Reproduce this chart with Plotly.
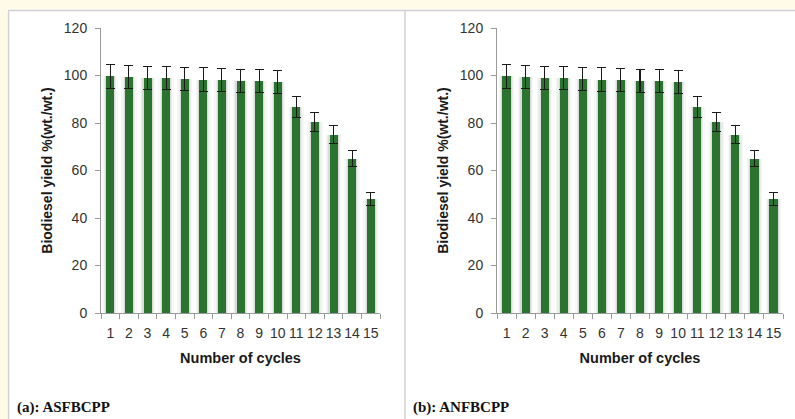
import plotly.graph_objects as go

cycles = [str(i) for i in range(1, 16)]
yield_a = [99.6, 99.3, 99.0, 98.9, 98.6, 98.3, 98.2, 97.8, 97.7, 97.4, 86.6, 80.5, 75.0, 65.0, 48.0]
err_a = [5.0, 4.9, 4.9, 4.9, 4.9, 4.9, 4.9, 4.9, 4.9, 4.8, 4.4, 4.0, 3.8, 3.3, 2.6]
yield_b = [99.6, 99.3, 99.0, 98.9, 98.6, 98.3, 98.2, 97.8, 97.7, 97.4, 86.6, 80.5, 75.0, 65.0, 48.0]
err_b = [5.0, 4.9, 4.9, 4.9, 4.9, 4.9, 4.9, 4.9, 4.9, 4.8, 4.4, 4.0, 3.8, 3.3, 2.6]
y_ticks = [0, 20, 40, 60, 80, 100, 120]
captions = ["(a): ASFBCPP", "(b): ANFBCPP"]

W, H = 795, 419
fig = go.Figure()

panels = [
    (yield_a, err_a, "x", "y", (101, 380)),
    (yield_b, err_b, "x2", "y2", (497, 783)),
]
for vals, errs, xa, ya, _ in panels:
    for w, c in [(0.82, "rgba(0,0,0,0.03)"), (0.66, "rgba(0,0,0,0.045)"), (0.54, "rgba(0,0,0,0.07)")]:
        fig.add_trace(go.Bar(x=cycles, y=vals, width=w, marker=dict(color=c, line_width=0),
                             xaxis=xa, yaxis=ya, hoverinfo="skip", showlegend=False))
    fig.add_trace(go.Bar(
        x=cycles, y=vals, width=0.43, xaxis=xa, yaxis=ya, showlegend=False,
        marker=dict(color="#2A7430", line_width=0),
        error_y=dict(type="data", array=errs, visible=True, color="#1a1a1a", thickness=1.1, width=4.5),
    ))

top, bot = 28, 313
ydom = [(H - bot) / H, (H - top) / H]
axis_font = dict(family="Liberation Sans, Arial, sans-serif", size=14, color="#333333")
title_font = dict(family="Liberation Sans, Arial, sans-serif", size=14, color="#1a1a1a")

layout = dict(
    width=W, height=H, margin=dict(l=0, r=0, t=0, b=0),
    paper_bgcolor="#FFFBE8", plot_bgcolor="rgba(0,0,0,0)",
    barmode="overlay", bargap=0,
)
for i, (_, _, xa, ya, (x0, x1)) in enumerate(panels):
    xk = "xaxis" if i == 0 else "xaxis2"
    yk = "yaxis" if i == 0 else "yaxis2"
    layout[xk] = dict(
        domain=[x0 / W, x1 / W], anchor=ya, type="category", automargin=False,
        showgrid=False, showline=True, linecolor="#9a9a9a", linewidth=1,
        ticks="outside", ticklen=5, tickcolor="#9a9a9a", tickson="boundaries",
        tickfont=axis_font, tickangle=0, range=[-0.5, 14.5], ticklabelstandoff=7,
        title=dict(text="<b>Number of cycles</b>", font=dict(title_font, size=14.5), standoff=13),
    )
    layout[yk] = dict(
        domain=ydom, anchor=xa, range=[0, 120], tickvals=y_ticks, automargin=False,
        showgrid=False, showline=True, linecolor="#9a9a9a", linewidth=1,
        ticks="outside", ticklen=5, tickcolor="#9a9a9a", zeroline=False,
        tickfont=axis_font, ticklabelstandoff=5,
        title=dict(text="<b>Biodiesel yield %(wt./wt.)</b>", font=title_font, standoff=7),
    )
fig.update_layout(**layout)

# white panels with light gray borders
fig.add_shape(type="rect", xref="paper", yref="paper", x0=7 / W, x1=1.02, y0=-0.05, y1=(H - 9) / H,
              fillcolor="white", line=dict(width=0), layer="below")
fig.add_shape(type="line", xref="paper", yref="paper", x0=8 / W, x1=1.0, y0=(H - 10.5) / H, y1=(H - 10.5) / H,
              line=dict(color="#d0d0d0", width=1.5), layer="below")
fig.add_shape(type="line", xref="paper", yref="paper", x0=8.5 / W, x1=8.5 / W, y0=0, y1=(H - 10.5) / H,
              line=dict(color="#d0d0d0", width=1.5), layer="below")
fig.add_shape(type="line", xref="paper", yref="paper", x0=405 / W, x1=405 / W, y0=0, y1=(H - 10.5) / H,
              line=dict(color="#d0d0d0", width=1.5), layer="below")

cap_font = dict(family="Liberation Serif, DejaVu Serif, serif", size=15, color="#111111")
for cx, txt in [(16, captions[0]), (412, captions[1])]:
    fig.add_annotation(x=cx / W, y=(H - 407) / H, xref="paper", yref="paper", text=f"<b>{txt}</b>",
                       showarrow=False, xanchor="left", yanchor="middle", font=cap_font, borderpad=0)

fig.write_html(
    "out.html",
    config={"displayModeBar": False},
    post_script="document.body.style.margin='0';document.body.style.overflow='hidden';"
                "document.body.style.background='#FFFBE8';",
)
